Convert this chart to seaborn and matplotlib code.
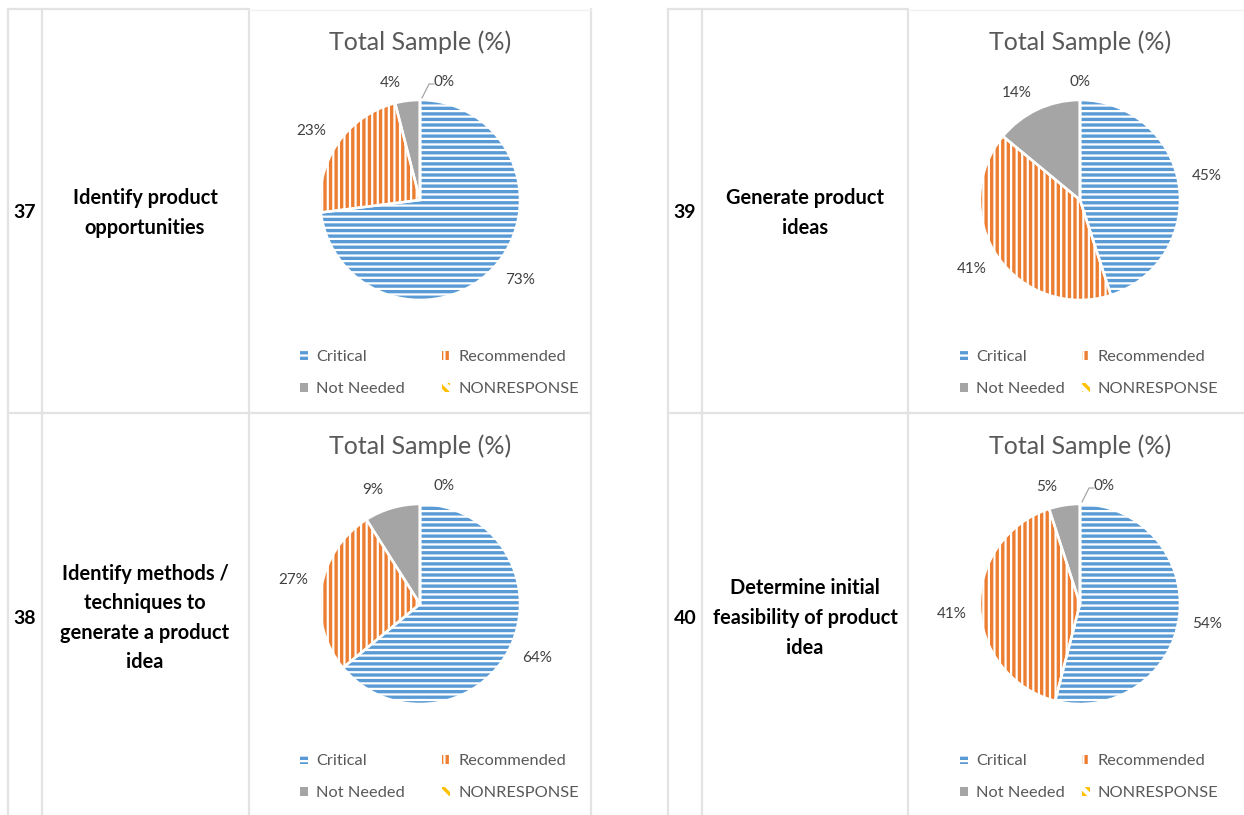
import matplotlib
matplotlib.use("Agg")
import matplotlib.pyplot as plt
from matplotlib.lines import Line2D
from matplotlib.patches import Patch
import numpy as np
import seaborn as sns

sns.set_theme(style="white")
plt.rcParams["font.family"] = ["Lato", "DejaVu Sans"]
plt.rcParams["hatch.linewidth"] = 2.4

# data
items = ["37", "38", "39", "40"]
tasks = [
    "Identify product\nopportunities",
    "Identify methods /\ntechniques to\ngenerate a product\nidea",
    "Generate product\nideas",
    "Determine initial\nfeasibility of product\nidea",
]
categories = ["Critical", "Recommended", "Not Needed", "NONRESPONSE"]
critical = [73, 64, 45, 54]
recommended = [23, 27, 41, 41]
not_needed = [4, 9, 14, 5]
nonresponse = [0, 0, 0, 0]

blue = "#5B9BD5"
orange = "#ED7D31"
gray = "#A5A5A5"
yellow = "#FFC000"
colors = [blue, orange, gray, yellow]
hatches = ["---", "|||", None, "\\\\\\"]
sns.set_palette(sns.color_palette(colors))

W, H = 1244, 815
fig = plt.figure(figsize=(W / 100, H / 100), dpi=100)
fig.patch.set_facecolor("white")

grid = "#E3E3E3"


def hline(y, x0, x1, color=grid, lw=1.6):
    fig.add_artist(Line2D([x0 / W, x1 / W], [1 - y / H, 1 - y / H],
                          transform=fig.transFigure, color=color, lw=lw))


def vline(x, y0, y1, color=grid, lw=1.6):
    fig.add_artist(Line2D([x / W, x / W], [1 - y0 / H, 1 - y1 / H],
                          transform=fig.transFigure, color=color, lw=lw))


# table borders
for x in [8, 42, 249, 591, 668, 702, 908]:
    vline(x, 9, 815)
hline(9, 8, 249)
hline(9, 668, 908)
hline(10, 249, 591, color="#F2F2F2", lw=1)
hline(10, 908, 1244, color="#F2F2F2", lw=1)
hline(413, 8, 591)
hline(413, 668, 1244)

# (number column x, label column x, pie centre x, row centre y, pie centre y, legend col spacing)
cells = [
    (25, 145, 420, 213, 200, 2.25),
    (25, 145, 420, 618, 604, 2.25),
    (685, 805, 1080, 213, 200, 1.0),
    (685, 805, 1080, 618, 604, 1.0),
]

for i, (nx, tx, cx, ry, cy, cs) in enumerate(cells):
    fig.text(nx / W, 1 - ry / H, items[i], ha="center", va="center",
             fontsize=14, fontweight="bold", color="black")
    fig.text(tx / W, 1 - ry / H, tasks[i], ha="center", va="center",
             fontsize=14.4, fontweight="bold", color="black", linespacing=1.6,
             multialignment="center")

    half = 150
    ax = fig.add_axes([(cx - half) / W, (H - cy - half) / H, 2 * half / W, 2 * half / H])

    vals = [critical[i], recommended[i], not_needed[i], nonresponse[i]]
    wedges, _ = ax.pie(vals, startangle=90, counterclock=False, radius=1.0)
    for w, c, h in zip(wedges, colors, hatches):
        if h:
            w.set_facecolor("white")
            w.set_edgecolor(c)
            w.set_hatch(h)
        else:
            w.set_facecolor(c)
            w.set_edgecolor(c)
        w.set_linewidth(0)

    borders, _, pcts = ax.pie(vals, startangle=90, counterclock=False, radius=1.0,
                              autopct=lambda p: f"{p:.0f}%", pctdistance=1.2,
                              wedgeprops=dict(facecolor="none", edgecolor="white", linewidth=1.8),
                              textprops=dict(fontsize=11, color="#404040"))

    # outside-end labels: label box corner sits just outside the rim
    for k, (w, t) in enumerate(zip(borders, pcts)):
        th = np.deg2rad((w.theta1 + w.theta2) / 2)
        c, s = np.cos(th), np.sin(th)
        x = 1.12 * c + 0.16 * np.sign(round(c, 6))
        y = 1.12 * s + 0.06 * np.sign(round(s, 6))
        if vals[k] == 0 and vals[k - 1] < 10:
            x += 0.24
            if vals[k - 1] <= 5:
                ax.plot([0.02, 0.09, 0.14], [1.02, 1.16, 1.16], color="#A6A6A6", lw=0.9)
        t.set_position((x, y))

    ax.set_xlim(-1.5, 1.5)
    ax.set_ylim(-1.5, 1.5)
    ax.set_aspect("equal")
    ax.axis("off")

    ax.text(0, 1.58, "Total Sample (%)", ha="center", va="center",
            fontsize=18, color="#595959")

    handles = [Patch(facecolor="white" if h else c, edgecolor=c, hatch=h, linewidth=0)
               for c, h in zip(colors, hatches)]
    order = [0, 2, 1, 3]
    ax.legend([handles[o] for o in order], [categories[o] for o in order],
              loc="upper left", bbox_to_anchor=((cx - 120) / W, 1 - (cy + 150) / H),
              bbox_transform=fig.transFigure, ncol=2, frameon=False, fontsize=11.8,
              handlelength=0.5, handleheight=0.5, handletextpad=0.5,
              columnspacing=cs, labelspacing=1.1, borderpad=0, borderaxespad=0,
              labelcolor="#595959")

fig.savefig("out.png", dpi=100, facecolor="white")
